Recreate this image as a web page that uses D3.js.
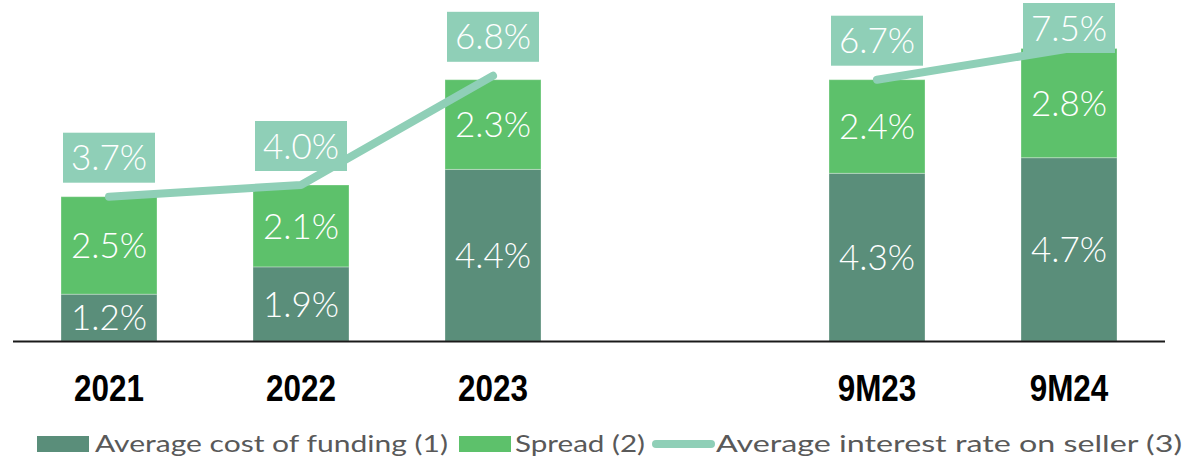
<!DOCTYPE html>
<html>
<head>
<meta charset="utf-8">
<script src="https://cdn.jsdelivr.net/npm/d3@7"></script>
<style>
  html, body { margin: 0; padding: 0; background: #ffffff; }
  svg { display: block; }
</style>
</head>
<body>
<div id="chart"></div>
<script>
// Periods on the x axis; "" is an empty slot separating full years from nine-month figures
const periods = ["2021", "2022", "2023", "", "9M23", "9M24"];
const costOfFunding = [1.2, 1.9, 4.4, null, 4.3, 4.7];
const spread = [2.5, 2.1, 2.3, null, 2.4, 2.8];
const sellerRate = [3.7, 4.0, 6.8, null, 6.7, 7.5];
const legendLabels = ["Average cost of funding (1)", "Spread (2)", "Average interest rate on seller (3)"];

const W = 1198, H = 459;
const COLORS = { cost: "#5a8e7a", spread: "#5dc16b", rate: "#8fcfb7" };
const labelFont = "Lato, 'Open Sans', sans-serif";

const svg = d3.select("#chart").append("svg")
  .attr("width", W).attr("height", H);

const x = d3.scaleBand()
  .domain(periods)
  .range([13, 1165])
  .paddingInner(0.5)
  .paddingOuter(0.25);

const y = d3.scaleLinear()
  .domain([0, 8])
  .range([341, 29]);

const fmt = v => v.toFixed(1) + "%";

// Stacked bars: cost of funding at the bottom, spread on top
const rows = periods.map((p, i) => ({
  period: p, cost: costOfFunding[i], spread: spread[i], rate: sellerRate[i]
})).filter(d => d.cost !== null);

const g = svg.append("g");

rows.forEach(d => {
  const segs = [
    { y0: 0, y1: d.cost, color: COLORS.cost },
    { y0: d.cost, y1: d.cost + d.spread, color: COLORS.spread }
  ];
  segs.forEach(s => {
    g.append("rect")
      .attr("x", x(d.period))
      .attr("y", y(s.y1))
      .attr("width", x.bandwidth())
      .attr("height", y(s.y0) - y(s.y1))
      .attr("fill", s.color)
      .attr("stroke", "rgba(255,255,255,0.3)")
      .attr("stroke-width", 1);
  });
});

// Segment value labels
rows.forEach(d => {
  const segs = [
    { y0: 0, y1: d.cost, v: d.cost },
    { y0: d.cost, y1: d.cost + d.spread, v: d.spread }
  ];
  segs.forEach(s => {
    g.append("text")
      .attr("x", x(d.period) + x.bandwidth() / 2)
      .attr("y", (y(s.y0) + y(s.y1)) / 2)
      .attr("dy", "0.36em")
      .attr("text-anchor", "middle")
      .attr("fill", "#ffffff")
      .attr("font-family", labelFont)
      .attr("font-weight", 300)
      .attr("font-size", 35)
      .text(fmt(s.v));
  });
});

// Baseline
svg.append("line")
  .attr("x1", 13).attr("x2", 1165)
  .attr("y1", y(0) + 0.5).attr("y2", y(0) + 0.5)
  .attr("stroke", "#1a1a1a")
  .attr("stroke-width", 2.2);

// Seller rate line, broken across the empty slot
const cx = p => x(p) + x.bandwidth() / 2;
const line = d3.line()
  .defined(d => d.rate !== null)
  .x(d => cx(d.period))
  .y(d => y(d.rate));

const lineData = periods.map((p, i) => ({ period: p, rate: sellerRate[i] }));
svg.append("path")
  .datum(lineData)
  .attr("d", line)
  .attr("fill", "none")
  .attr("stroke", COLORS.rate)
  .attr("stroke-width", 8)
  .attr("stroke-linecap", "round")
  .attr("stroke-linejoin", "round");

// Boxed labels above each line point
const boxW = 92, boxH = 50;
lineData.filter(d => d.rate !== null).forEach(d => {
  const cy = Math.max(y(d.rate) - 39, boxH / 2 + 3);
  const bx = cx(d.period);
  svg.append("rect")
    .attr("x", bx - boxW / 2)
    .attr("y", cy - boxH / 2)
    .attr("width", boxW)
    .attr("height", boxH)
    .attr("fill", COLORS.rate);
  svg.append("text")
    .attr("x", bx)
    .attr("y", cy)
    .attr("dy", "0.36em")
    .attr("text-anchor", "middle")
    .attr("fill", "#ffffff")
    .attr("font-family", labelFont)
    .attr("font-weight", 300)
    .attr("font-size", 35)
    .text(fmt(d.rate));
});

// Category labels, bold and slightly condensed
periods.filter(p => p !== "").forEach(p => {
  svg.append("text")
    .attr("transform", `translate(${cx(p)},401) scale(0.85,1)`)
    .attr("text-anchor", "middle")
    .attr("fill", "#000000")
    .attr("font-family", "'Liberation Sans', Arial, sans-serif")
    .attr("font-weight", 700)
    .attr("font-size", 37)
    .text(p);
});

// Legend
const legend = svg.append("g").attr("font-family", labelFont)
  .attr("font-size", 23).attr("fill", "#595959");

const legendItems = [
  { label: legendLabels[0], kind: "rect", color: COLORS.cost, x0: 37, tx: 95, tw: 353 },
  { label: legendLabels[1], kind: "rect", color: COLORS.spread, x0: 459, tx: 515, tw: 130 },
  { label: legendLabels[2], kind: "line", color: COLORS.rate, x0: 656, tx: 716, tw: 466 }
];

legendItems.forEach(it => {
  if (it.kind === "rect") {
    legend.append("rect")
      .attr("x", it.x0).attr("y", 436)
      .attr("width", 52).attr("height", 16)
      .attr("fill", it.color);
  } else {
    legend.append("line")
      .attr("x1", it.x0).attr("x2", it.x0 + 55)
      .attr("y1", 444).attr("y2", 444)
      .attr("stroke", it.color)
      .attr("stroke-width", 8)
      .attr("stroke-linecap", "round");
  }
  legend.append("text")
    .attr("x", it.tx).attr("y", 452)
    .attr("textLength", it.tw)
    .attr("lengthAdjust", "spacingAndGlyphs")
    .text(it.label);
});
</script>
</body>
</html>
